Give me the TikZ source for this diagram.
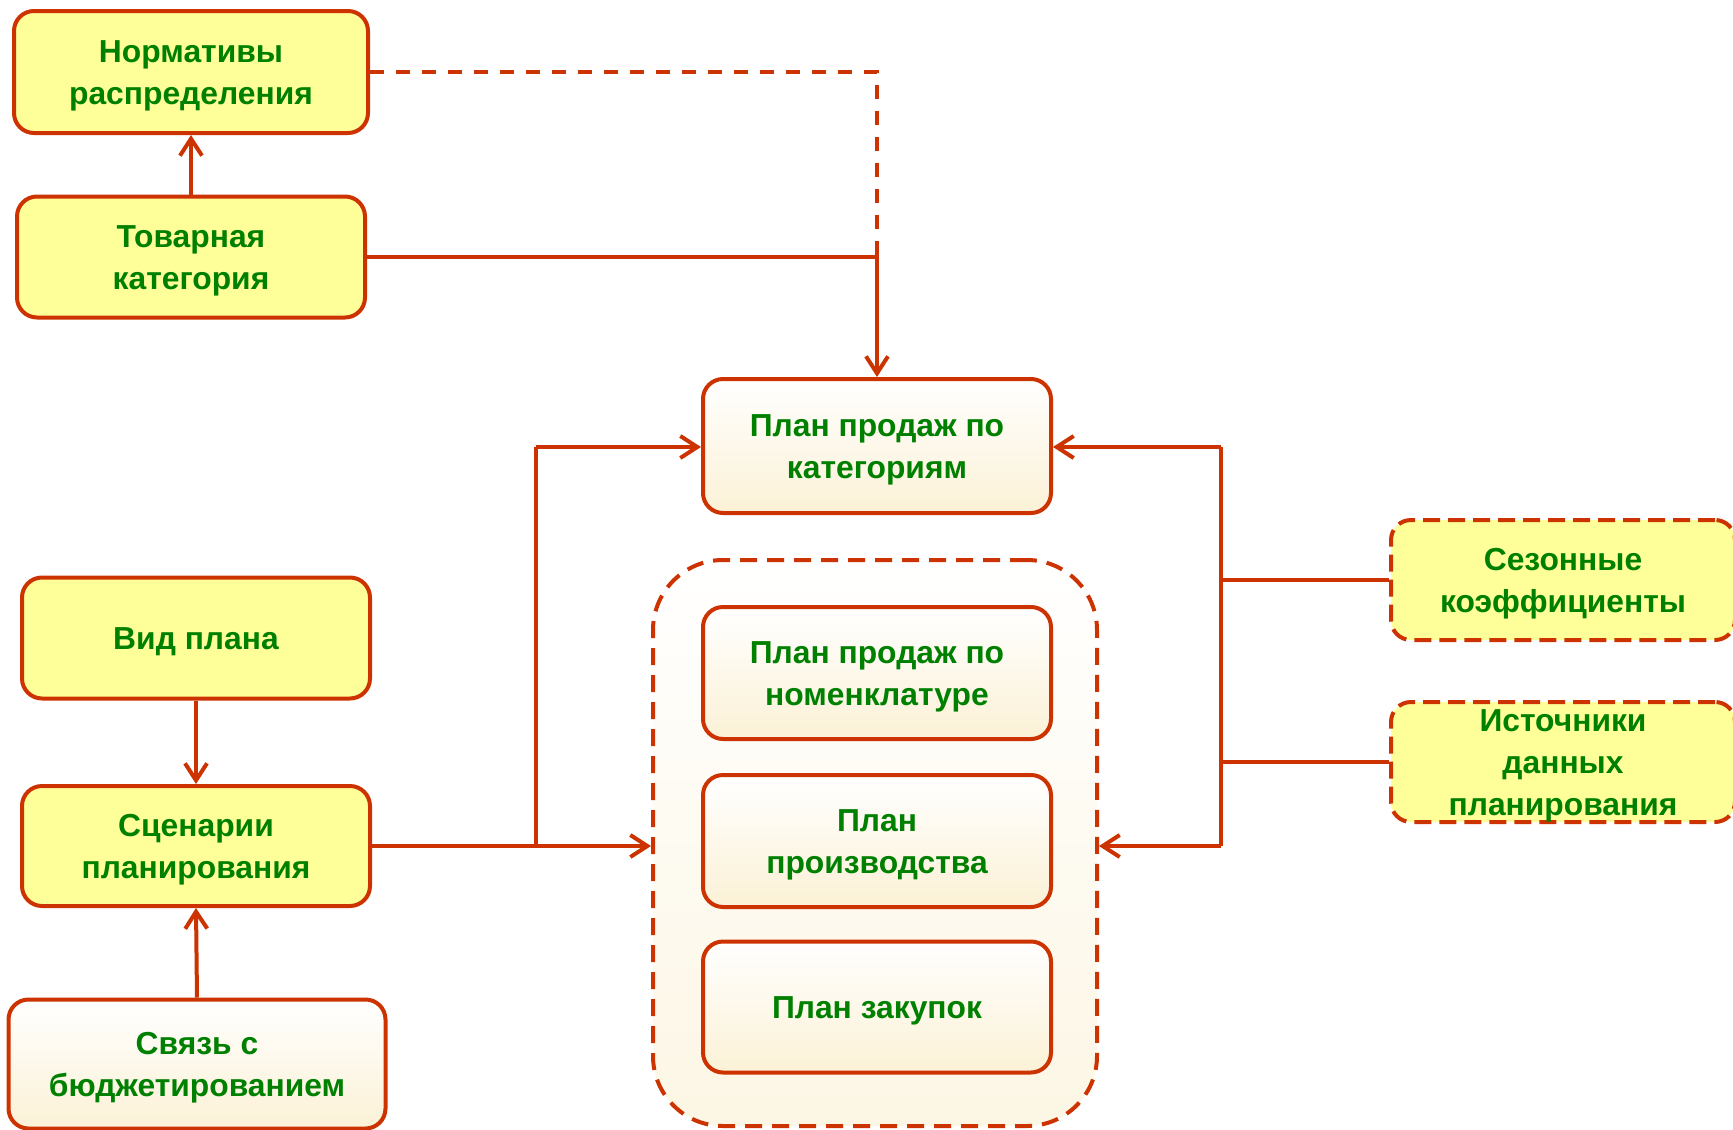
\documentclass[tikz,border=0pt]{standalone}
\usepackage{fontspec}
\setmainfont{Liberation Sans}
\usetikzlibrary{arrows.meta}
\definecolor{brd}{RGB}{204,51,0}
\definecolor{txt}{RGB}{0,128,0}
\definecolor{yel}{RGB}{255,255,153}
\definecolor{cream}{RGB}{251,241,214}
\definecolor{creamlt}{RGB}{252,246,228}
\begin{document}
\begin{tikzpicture}[x=1pt,y=-1pt,
 boxtxt/.style={align=center, text=txt, inner sep=0pt,
   font=\fontsize{31.8}{42}\selectfont\bfseries, yshift=-3.5pt},
 box/.style={draw=brd, line width=4pt, rounded corners=20pt, inner sep=0pt,
   label={[boxtxt]center:#1}},
 ybox/.style={box={#1}, fill=yel},
 pbox/.style={box={#1}, top color=white, bottom color=cream},
 dbox/.style={ybox={#1}, dash pattern=on 17pt off 8pt},
 contbox/.style={draw=brd, line width=4pt, rounded corners=70pt, dash pattern=on 17pt off 10pt,
   top color=white, bottom color=creamlt},
 conn/.style={draw=brd, line width=4pt},
 dconn/.style={conn, line width=3.5pt, dash pattern=on 14pt off 12pt},
 arr/.style={conn, -{Straight Barb[length=17pt,width=22pt,line width=4pt]}},
]
\useasboundingbox[fill=white] (0,0) rectangle (1733,1130);

% left column
\node[ybox={Нормативы\\распределения}, minimum width=354pt, minimum height=122pt] (norm) at (191,72) {};
\node[ybox={Товарная\\категория}, minimum width=348pt, minimum height=121pt] (tov) at (191,257) {};
\node[ybox={Вид плана}, minimum width=348pt, minimum height=121pt] (vid) at (196,638) {};
\node[ybox={Сценарии\\планирования}, minimum width=348pt, minimum height=120pt] (scen) at (196,846) {};
\node[pbox={Связь с\\бюджетированием}, minimum width=377pt, minimum height=129pt] (svy) at (197,1064) {};

% centre
\node[pbox={План продаж по\\категориям}, minimum width=348pt, minimum height=134pt] (kat) at (877,446) {};
\node[contbox, minimum width=444pt, minimum height=566pt] (cont) at (875,843) {};
\node[pbox={План продаж по\\номенклатуре}, minimum width=348pt, minimum height=132pt] (nom) at (877,673) {};
\node[pbox={План\\производства}, minimum width=348pt, minimum height=132pt] (proiz) at (877,841) {};
\node[pbox={План закупок}, minimum width=348pt, minimum height=131pt] (zak) at (877,1007) {};

% right
\node[dbox={Сезонные\\коэффициенты}, minimum width=344pt, minimum height=120pt] (sez) at (1563,580) {};
\node[dbox={Источники\\данных\\планирования}, minimum width=344pt, minimum height=120pt] (ist) at (1563,762) {};

% junction points
\coordinate (lt) at (536,447);
\coordinate (lb) at (536,846);
\coordinate (rt) at (1221,447);
\coordinate (rb) at (1221,846);

% connectors
\draw[arr] (tov.north) -- (norm.south);
\draw[dconn] (norm.east) -- (norm.east -| kat.north) -- (tov.east -| kat.north);
\draw[arr] (tov.east) -- (tov.east -| kat.north) -- (kat.north);

\draw[arr] (vid.south) -- (scen.north);
\draw[arr] (svy.north) -- (scen.south);

\draw[conn] (scen.east) -- (lb);
\draw[arr] (lb) -- (lb -| cont.west);
\draw[conn] (lb) -- (lt);
\draw[arr] (lt) -- (lt -| kat.west);

\draw[conn] (rt) -- (rb);
\draw[arr] (rt) -- (rt -| kat.east);
\draw[arr] (rb) -- (rb -| cont.east);
\draw[conn] (sez.west) -- (sez.west -| rt);
\draw[conn] (ist.west) -- (ist.west -| rt);
\end{tikzpicture}
\end{document}
